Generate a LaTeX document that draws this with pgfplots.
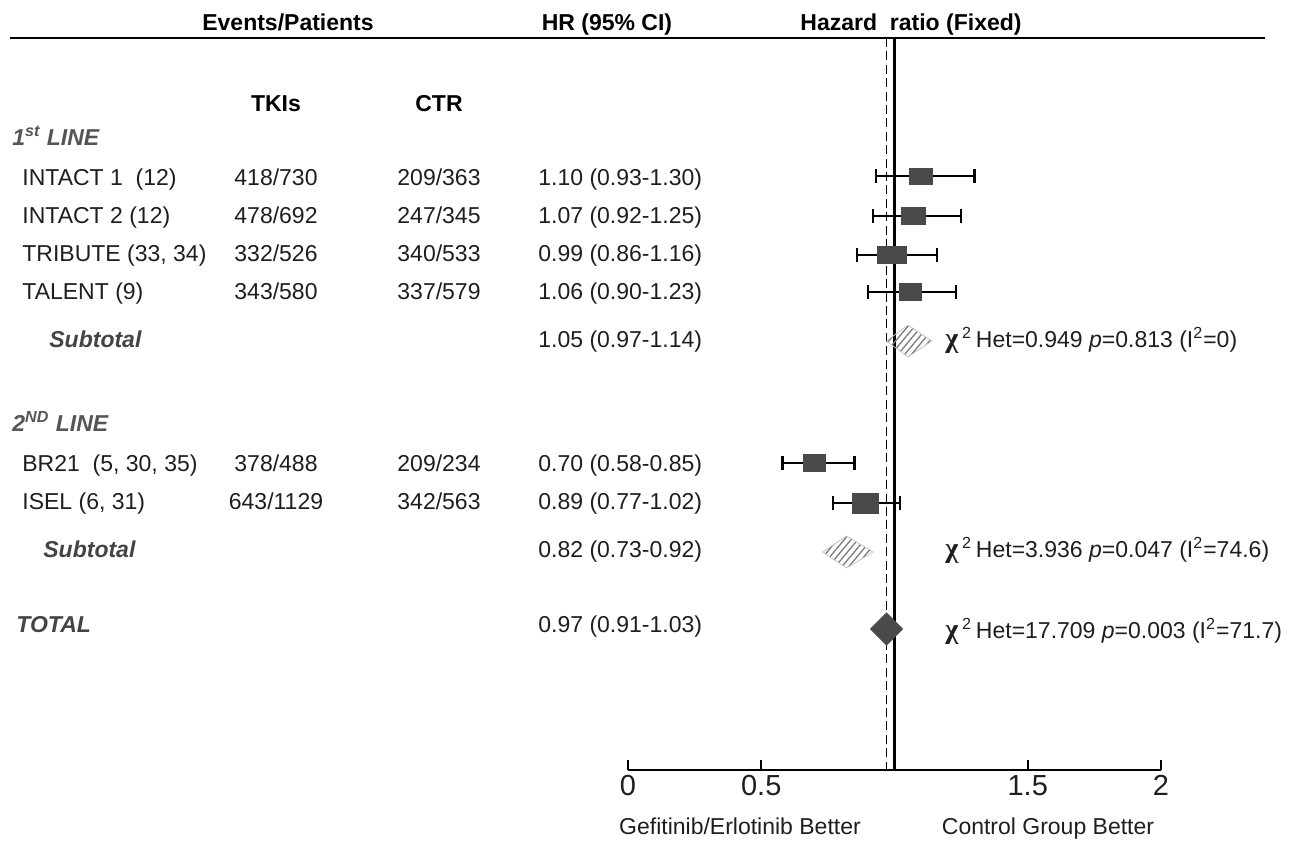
\documentclass[border=0pt]{standalone}
\usepackage{pgfplots}
\pgfplotsset{compat=1.18}
\usepackage{fontspec}
\setmainfont{Liberation Sans}
\newfontfamily\seriffont{Liberation Serif}
\usetikzlibrary{patterns.meta}
\definecolor{boxgray}{HTML}{4A4A4A}
\definecolor{txt}{HTML}{1E1E1E}
\definecolor{hdgray}{HTML}{555555}
\definecolor{subgray}{HTML}{444444}
\definecolor{hatch}{HTML}{7A7A7A}
\newcommand{\fs}{\fontsize{11.5}{13}\selectfont}
\newcommand{\chisq}{{\seriffont\bfseries\fontsize{14}{14}\selectfont χ}\,\textsuperscript{2}\,}
\begin{document}
\begin{tikzpicture}[font=\fs]
\useasboundingbox (0,0) rectangle (647.5pt,421pt);
\begin{axis}[
  at={(0,0)}, anchor=south west,
  width=647.5pt, height=421pt, scale only axis,
  xmin=-2.35647, xmax=2.50281, ymin=-842, ymax=0,
  hide axis, clip=false,
]
% header rule
\addplot[black, line width=1pt] coordinates {(-2.319,-38) (2.390,-38)};
% reference lines
\addplot[black, line width=1.4pt] coordinates {(1,-38) (1,-770)};
\addplot[black, line width=0.9pt, dash pattern=on 4.5pt off 2.2pt] coordinates {(0.97,-38) (0.97,-770)};
% whiskers (95% CI)
\addplot[black, line width=1.1pt, mark=|, mark size=3.5pt] coordinates {(0.93,-176) (1.30,-176)};
\addplot[black, line width=1.1pt, mark=|, mark size=3.5pt] coordinates {(0.92,-216) (1.25,-216)};
\addplot[black, line width=1.1pt, mark=|, mark size=3.5pt] coordinates {(0.86,-255) (1.16,-255)};
\addplot[black, line width=1.1pt, mark=|, mark size=3.5pt] coordinates {(0.90,-292) (1.23,-292)};
\addplot[black, line width=1.1pt, mark=|, mark size=3.5pt] coordinates {(0.58,-463) (0.85,-463)};
\addplot[black, line width=1.1pt, mark=|, mark size=3.5pt] coordinates {(0.77,-503) (1.02,-503)};
% point estimates (weighted boxes)
\addplot[only marks, mark=square*, color=boxgray, mark size=4pt, mark options={xscale=1.44}] coordinates {(1.10,-176)};
\addplot[only marks, mark=square*, color=boxgray, mark size=4.3pt, mark options={xscale=1.41}] coordinates {(1.07,-216)};
\addplot[only marks, mark=square*, color=boxgray, mark size=4.1pt, mark options={xscale=1.77}] coordinates {(0.99,-255)};
\addplot[only marks, mark=square*, color=boxgray, mark size=4.4pt, mark options={xscale=1.25}] coordinates {(1.06,-292)};
\addplot[only marks, mark=square*, color=boxgray, mark size=4.4pt, mark options={xscale=1.25}] coordinates {(0.70,-463)};
\addplot[only marks, mark=square*, color=boxgray, mark size=5pt, mark options={xscale=1.3}] coordinates {(0.89,-503)};
% subtotal diamonds (hatched)
\addplot[draw=gray!45, line width=0.4pt, pattern={Lines[angle=50, distance=2.6pt, line width=0.65pt]}, pattern color=hatch] coordinates {(0.97,-341) (1.05,-325) (1.14,-341) (1.05,-357) (0.97,-341)};
\addplot[draw=gray!45, line width=0.4pt, pattern={Lines[angle=50, distance=2.6pt, line width=0.65pt]}, pattern color=hatch] coordinates {(0.73,-552) (0.82,-536) (0.92,-552) (0.82,-568) (0.73,-552)};
% total diamond
\addplot[draw=boxgray, fill=boxgray, line width=0.4pt] coordinates {(0.91,-629) (0.97,-613) (1.03,-629) (0.97,-645) (0.91,-629)};
\end{axis}
% HR scale
\begin{axis}[
  at={(314pt,36pt)}, anchor=south west,
  width=266.5pt, height=20pt, scale only axis,
  xmin=0, xmax=2, ymin=0, ymax=1,
  axis x line*=bottom, axis y line=none,
  xtick={0,0.5,1.5,2}, xticklabels={0,0.5,1.5,2},
  tick align=inside, major tick length=5pt,
  x axis line style={line width=1pt},
  tick style={black, line width=1pt},
  xticklabel style={font=\fontsize{14.5}{16}\selectfont, text=txt, yshift=1pt},
]
\addplot[draw=none] coordinates {(0,0) (2,1)};
\end{axis}
% text columns
\begin{scope}[x=0.5pt, y=-0.5pt, shift={(0pt,421pt)},
  every node/.style={inner sep=0pt, text height=8.2pt, text depth=0pt, text=txt}]
\node[font=\fs\bfseries, text=black] at (288,22) {Events/Patients};
\node[font=\fs\bfseries, text=black] at (607,22) {HR (95\% CI)};
\node[font=\fs\bfseries, text=black] at (911,22) {Hazard\ \ ratio (Fixed)};
\node[font=\fs\bfseries, text=black] at (276,103) {TKIs};
\node[font=\fs\bfseries, text=black] at (439,103) {CTR};
\node[anchor=west, font=\fs\bfseries\itshape, text=hdgray] at (12,137) {1\textsuperscript{st} LINE};
\node[anchor=west, font=\fs\bfseries\itshape, text=hdgray] at (12,423) {2\textsuperscript{ND} LINE};
% 1st line rows
\node[anchor=west] at (22,177) {INTACT 1 \ (12)};
\node at (276,177) {418/730};
\node at (439,177) {209/363};
\node[anchor=west] at (538,177) {1.10 (0.93-1.30)};
\node[anchor=west] at (22,215) {INTACT 2 (12)};
\node at (276,215) {478/692};
\node at (439,215) {247/345};
\node[anchor=west] at (538,215) {1.07 (0.92-1.25)};
\node[anchor=west] at (22,253) {TRIBUTE (33, 34)};
\node at (276,253) {332/526};
\node at (439,253) {340/533};
\node[anchor=west] at (538,253) {0.99 (0.86-1.16)};
\node[anchor=west] at (22,291) {TALENT (9)};
\node at (276,291) {343/580};
\node at (439,291) {337/579};
\node[anchor=west] at (538,291) {1.06 (0.90-1.23)};
\node[anchor=west, font=\fs\bfseries\itshape, text=subgray] at (49,339) {Subtotal};
\node[anchor=west] at (538,339) {1.05 (0.97-1.14)};
\node[anchor=west] at (945,339) {\chisq Het=0.949 \textit{p}=0.813 (I\textsuperscript{2}=0)};
% 2nd line rows
\node[anchor=west] at (22,463) {BR21 \ (5, 30, 35)};
\node at (276,463) {378/488};
\node at (439,463) {209/234};
\node[anchor=west] at (538,463) {0.70 (0.58-0.85)};
\node[anchor=west] at (22,501) {ISEL (6, 31)};
\node at (276,501) {643/1129};
\node at (439,501) {342/563};
\node[anchor=west] at (538,501) {0.89 (0.77-1.02)};
\node[anchor=west, font=\fs\bfseries\itshape, text=subgray] at (43,549) {Subtotal};
\node[anchor=west] at (538,549) {0.82 (0.73-0.92)};
\node[anchor=west] at (945,549) {\chisq Het=3.936 \textit{p}=0.047 (I\textsuperscript{2}=74.6)};
% total
\node[anchor=west, font=\fs\bfseries\itshape, text=subgray] at (16,624) {TOTAL};
\node[anchor=west] at (538,624) {0.97 (0.91-1.03)};
\node[anchor=west] at (945,630) {\chisq Het=17.709 \textit{p}=0.003 (I\textsuperscript{2}=71.7)};
% scale captions
\node at (740,826) {Gefitinib/Erlotinib Better};
\node at (1048,826) {Control Group Better};
\end{scope}
\end{tikzpicture}
\end{document}
